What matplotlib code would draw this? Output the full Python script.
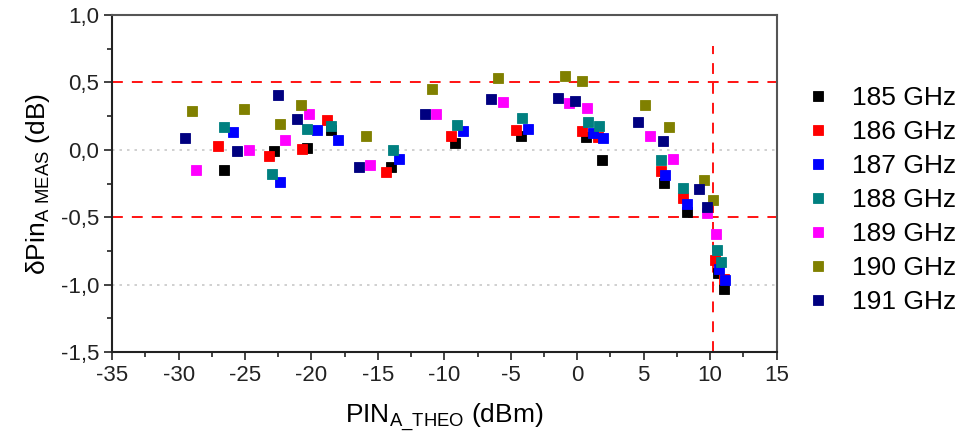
import numpy as np
import matplotlib
matplotlib.use("Agg")
import matplotlib.pyplot as plt
from matplotlib.ticker import MultipleLocator, FuncFormatter

plt.rcParams['font.family'] = ['Liberation Sans', 'DejaVu Sans']
plt.rcParams['mathtext.default'] = 'regular'

labels = ['185 GHz', '186 GHz', '187 GHz', '188 GHz', '189 GHz', '190 GHz', '191 GHz']
colors = ['#000000', '#ff0000', '#0000ff', '#008080', '#ff00ff', '#808000', '#000080']

x_185 = [-26.6, -22.8, -20.3, -18.5, -14.0, -9.2, -4.25, 0.66, 1.9, 6.56, 8.23, 10.6, 11.03]
y_185 = [-0.15, -0.01, 0.015, 0.15, -0.13, 0.05, 0.105, 0.095, -0.075, -0.245, -0.46, -0.915, -1.03]
x_186 = [-27.0, -23.2, -20.7, -18.8, -14.4, -9.5, -4.6, 0.34, 1.6, 6.28, 8.0, 10.38, 11.03]
y_186 = [0.03, -0.045, 0.005, 0.22, -0.165, 0.105, 0.145, 0.14, 0.095, -0.155, -0.355, -0.82, -0.955]
x_187 = [-25.9, -22.35, -19.6, -18.0, -13.4, -8.56, -3.67, 1.2, 1.92, 6.58, 8.3, 10.7, 11.1]
y_187 = [0.13, -0.235, 0.15, 0.07, -0.07, 0.14, 0.155, 0.125, 0.09, -0.185, -0.40, -0.885, -0.965]
x_188 = [-26.6, -22.95, -20.3, -18.5, -13.9, -9.06, -4.12, 0.81, 1.64, 6.28, 8.0, 10.53, 10.86]
y_188 = [0.17, -0.18, 0.155, 0.18, 0.0, 0.185, 0.235, 0.21, 0.18, -0.075, -0.28, -0.74, -0.83]
x_189 = [-28.7, -24.7, -22.0, -20.2, -15.6, -10.6, -5.6, -0.6, 0.74, 5.45, 7.23, 9.8, 10.46]
y_189 = [-0.15, 0.0, 0.075, 0.27, -0.11, 0.27, 0.355, 0.35, 0.31, 0.105, -0.065, -0.47, -0.62]
x_190 = [-29.0, -25.1, -22.4, -20.8, -15.9, -10.96, -5.98, -0.94, 0.34, 5.1, 6.93, 9.56, 10.24]
y_190 = [0.285, 0.30, 0.195, 0.33, 0.10, 0.45, 0.535, 0.545, 0.51, 0.335, 0.17, -0.22, -0.37]
x_191 = [-29.5, -25.6, -22.5, -21.1, -16.4, -11.47, -6.48, -1.44, -0.2, 4.6, 6.45, 9.13, 9.8]
y_191 = [0.085, -0.01, 0.405, 0.23, -0.125, 0.27, 0.38, 0.385, 0.365, 0.205, 0.065, -0.29, -0.42]

xs = [x_185, x_186, x_187, x_188, x_189, x_190, x_191]
ys = [y_185, y_186, y_187, y_188, y_189, y_190, y_191]

fig = plt.figure(figsize=(9.67, 4.43), dpi=100)
ax = fig.add_axes([0.116, 0.205, 0.687, 0.761])

# grid and reference lines
for g in [0.0, -1.0]:
    ax.axhline(g, color='#c8c8c8', lw=1.2, ls=(0, (1.5, 3)), zorder=0)
for g in [0.5, -0.5]:
    ax.axhline(g, color='#ff0000', lw=1.3, ls=(0, (6, 5)), zorder=1)
ax.axvline(10.2, ymin=0.0, ymax=0.908, color='#ff0000', lw=1.3, ls=(0, (6, 5)), zorder=1)

for x, y, c, lab in zip(xs, ys, colors, labels):
    ax.plot(x, y, 's', color=c, markersize=7.5, markeredgecolor=c,
            markeredgewidth=0.6, ls='none', label=lab, zorder=3)

ax.set_xlim(-35, 15)
ax.set_ylim(-1.5, 1.0)
ax.xaxis.set_major_locator(MultipleLocator(5))
ax.xaxis.set_minor_locator(MultipleLocator(2.5))
ax.yaxis.set_major_locator(MultipleLocator(0.5))
ax.yaxis.set_minor_locator(MultipleLocator(0.25))
ax.yaxis.set_major_formatter(FuncFormatter(lambda v, p: f"{v:.1f}".replace('.', ',')))
ax.xaxis.set_major_formatter(FuncFormatter(lambda v, p: f"{v:.0f}"))
ax.tick_params(which='major', direction='out', length=6, width=1.2, labelsize=16, colors='#222222')
ax.tick_params(which='minor', direction='out', length=3.5, width=1.2, colors='#222222')
for s in ax.spines.values():
    s.set_linewidth(1.5)
    s.set_color('#222222')
ax.spines['top'].set_color('#555555')
ax.spines['right'].set_color('#555555')

ax.set_xlabel('PIN$_{A\\_THEO}$ (dBm)', fontsize=19, labelpad=11)
ax.set_ylabel('$\\delta$Pin$_{A\\ MEAS}$ (dB)', fontsize=19, labelpad=6)

leg = ax.legend(loc='upper left', bbox_to_anchor=(1.03, 0.82), frameon=False,
                fontsize=19, handlelength=0.8, handletextpad=0.9,
                labelspacing=0.38, borderaxespad=0.0, markerscale=1.0)

fig.savefig('out.png', dpi=100)
plt.close(fig)
